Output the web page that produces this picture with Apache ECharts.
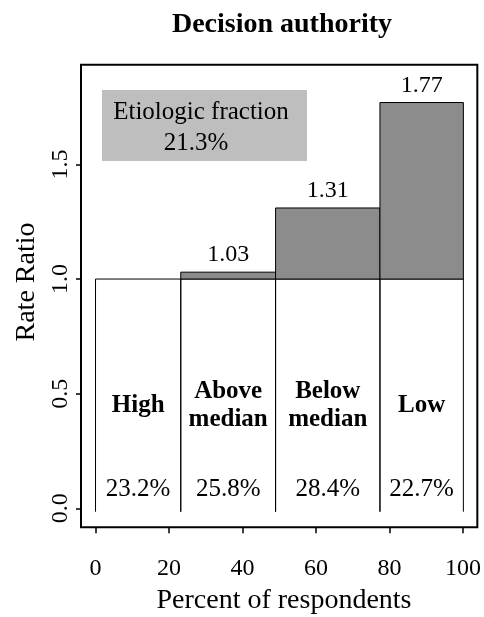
<!DOCTYPE html>
<html>
<head>
<meta charset="utf-8">
<script src="https://cdn.jsdelivr.net/npm/echarts@6/dist/echarts.min.js"></script>
<style>
  html, body { margin: 0; padding: 0; background: #fff; }
  #chart { width: 484px; height: 617px; }
</style>
</head>
<body>
<div id="chart"></div>
<script>
// Decision authority: rate ratio by category, bar width = share of respondents
const categories = ['High', 'Above\nmedian', 'Below\nmedian', 'Low'];
const shares = [23.2, 25.8, 28.4, 22.7];          // percent of respondents
const rateRatios = [1.00, 1.03, 1.31, 1.77];       // rate ratio vs. reference (High)
const referenceRatio = 1.0;
const etiologicFraction = 21.3;                    // percent
const xTicks = [0, 20, 40, 60, 80, 100];
const yTicks = [0, 0.5, 1.0, 1.5];

const FONT = '"Liberation Serif", "Times New Roman", serif';

// cumulative x extents of each variable-width bar
const barData = [];
let acc = 0;
shares.forEach((s, i) => {
  barData.push([acc, acc + s, rateRatios[i], i]);
  acc += s;
});

function renderBar(params, api) {
  const x0 = api.value(0), x1 = api.value(1), rr = api.value(2), i = api.value(3);
  const below = -0.015;
  const pBL = api.coord([x0, below]);
  const pTL = api.coord([x0, referenceRatio]);
  const pTR = api.coord([x1, referenceRatio]);
  const pBR = api.coord([x1, below]);
  const mid = (x0 + x1) / 2;
  const children = [];

  // white section up to the reference ratio
  children.push({
    type: 'polyline',
    shape: { points: [pBL, pTL, pTR, pBR] },
    style: { stroke: '#000', lineWidth: 1, fill: null },
    z2: 1
  });

  // grey excess above the reference ratio
  if (rr > referenceRatio) {
    const pTop = api.coord([x0, rr]);
    children.push({
      type: 'rect',
      shape: { x: pTL[0], y: pTop[1], width: pTR[0] - pTL[0], height: pTL[1] - pTop[1] },
      style: { fill: '#8c8c8c', stroke: '#000', lineWidth: 1 },
      z2: 2
    });
    const pLab = api.coord([mid, rr]);
    children.push({
      type: 'text',
      x: pLab[0], y: pLab[1] - 17,
      style: { text: rr.toFixed(2), font: '24px ' + FONT, fill: '#000', align: 'center', verticalAlign: 'middle' },
      z2: 3
    });
  }

  // category name
  const pCat = api.coord([mid, 0.45]);
  children.push({
    type: 'text',
    x: pCat[0], y: pCat[1],
    style: { text: categories[i], font: 'bold 25px ' + FONT, fill: '#000', align: 'center', verticalAlign: 'middle', lineHeight: 28 },
    z2: 3
  });

  // share of respondents
  const pShare = api.coord([mid, 0.08]);
  children.push({
    type: 'text',
    x: pShare[0], y: pShare[1],
    style: { text: shares[i].toFixed(1) + '%', font: '25px ' + FONT, fill: '#000', align: 'center', verticalAlign: 'middle' },
    z2: 3
  });

  return { type: 'group', children };
}

const chart = echarts.init(document.getElementById('chart'), null, { renderer: 'canvas' });

chart.setOption({
  backgroundColor: '#fff',
  animation: false,
  grid: {
    left: 81, top: 64.7, right: 1.3, bottom: 89.7,
    show: true, borderColor: '#000', borderWidth: 2, backgroundColor: 'transparent'
  },
  xAxis: {
    type: 'value', min: -3.95, max: 103.9,
    axisLine: { show: false, onZero: false },
    splitLine: { show: false },
    axisTick: { show: true, customValues: xTicks, length: 6, lineStyle: { color: '#000', width: 1.5 } },
    axisLabel: {
      customValues: xTicks, margin: 29,
      fontFamily: 'Liberation Serif', fontSize: 24, color: '#000',
      formatter: v => String(v)
    }
  },
  yAxis: {
    type: 'value', min: -0.083, max: 1.935,
    axisLine: { show: false, onZero: false },
    splitLine: { show: false },
    axisTick: { show: true, customValues: yTicks, length: 5, lineStyle: { color: '#000', width: 1.5 } },
    axisLabel: {
      customValues: yTicks, margin: 8, rotate: 90,
      fontFamily: 'Liberation Serif', fontSize: 24, color: '#000',
      formatter: v => v.toFixed(1)
    }
  },
  series: [{
    type: 'custom',
    renderItem: renderBar,
    data: barData,
    encode: { x: [0, 1], y: 2 },
    clip: false,
    silent: true
  }],
  graphic: [
    {
      type: 'text', x: 282, y: 25,
      style: { text: 'Decision authority', font: 'bold 28px ' + FONT, fill: '#000', align: 'center', verticalAlign: 'middle' }
    },
    {
      type: 'text', x: 284, y: 601,
      style: { text: 'Percent of respondents', font: '28px ' + FONT, fill: '#000', align: 'center', verticalAlign: 'middle' }
    },
    {
      type: 'text', x: 27, y: 282, rotation: Math.PI / 2,
      style: { text: 'Rate Ratio', font: '28px ' + FONT, fill: '#000', align: 'center', verticalAlign: 'middle' }
    },
    {
      type: 'rect', x: 102, y: 90, z: 5,
      shape: { width: 205, height: 71 },
      style: { fill: '#bebebe' }
    },
    {
      type: 'text', x: 201, y: 112, z: 6,
      style: { text: 'Etiologic fraction', font: '25px ' + FONT, fill: '#000', align: 'center', verticalAlign: 'middle' }
    },
    {
      type: 'text', x: 196, y: 143, z: 6,
      style: { text: etiologicFraction.toFixed(1) + '%', font: '25px ' + FONT, fill: '#000', align: 'center', verticalAlign: 'middle' }
    }
  ]
});
</script>
</body>
</html>
